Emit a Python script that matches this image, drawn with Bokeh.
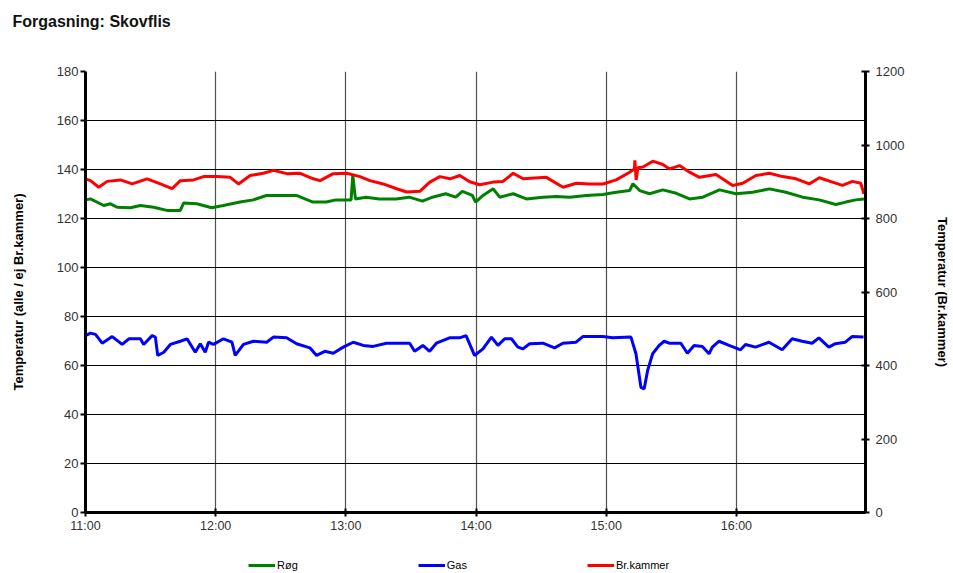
from bokeh.plotting import figure
from bokeh.layouts import column
from bokeh.models import Range1d, LinearAxis, FixedTicker, Legend, LegendItem, Title
from bokeh.embed import file_html
from bokeh.resources import INLINE

title_text = "Forgasning: Skovflis"
left_label = "Temperatur (alle / ej Br.kammer)"
right_label = "Temperatur (Br.kammer)"
series_names = ["Røg", "Gas", "Br.kammer"]
series_colors = ["#008000", "#0000FF", "#FF0000"]

tick_pos = [0, 60, 120, 180, 240, 300]
tick_labels = ["11:00", "12:00", "13:00", "14:00", "15:00", "16:00"]

# minutes after 11:00
roeg_t = [0, 2.3, 8.4, 11.5, 14.6, 20.7, 25.3, 31.4, 37.5, 43.7, 45.2, 51.3, 58.2, 63.5, 71.2, 77.3,
          83.4, 89.5, 97.2, 104.8, 110.9, 115.5, 122.4, 123.2, 124.4, 129.3, 135.4, 143.1, 149.2,
          155.3, 159.9, 166, 170.6, 173.7, 178.3, 179.8, 183.2, 187.9, 190.9, 197.1, 203.2, 210.9,
          217, 223.1, 230.8, 238.5, 244.6, 250.8, 252.3, 255.4, 260, 266.1, 272.3, 278.4, 284.5,
          292.2, 299.8, 307.5, 315.2, 322.8, 330.5, 338.2, 345.8, 350.4, 355, 358.8]
roeg_v = [127.6, 128.0, 125.3, 126, 124.6, 124.4, 125.3, 124.6, 123.3, 123.3, 126.3, 126, 124.4, 125.3,
          126.7, 127.6, 129.4, 129.4, 129.4, 126.7, 126.7, 127.6, 127.6, 137.6, 128, 128.7, 128, 128,
          128.7, 127.1, 128.7, 130.1, 128.7, 131.1, 129.4, 126.7, 129.4, 132.1, 128.7, 130.1, 128,
          128.7, 129, 128.7, 129.4, 129.8, 130.7, 131.4, 134.2, 131.4, 130.1, 131.7, 130.3, 128,
          128.7, 131.7, 130.1, 130.7, 132.1, 130.7, 128.7, 127.6, 125.7, 126.7, 127.6, 128]

gas_t = [0, 2.3, 4.6, 7.7, 12.3, 16.9, 20, 25.3, 26.8, 30.7, 32.2, 33.3, 36.1, 39.1, 43.7, 46.8, 50.6,
         52.9, 55.2, 56.7, 59, 63.6, 67.5, 69, 72.8, 77.4, 83.5, 86.6, 92.7, 97.3, 103.4, 106.5, 110.3,
         114.2, 118.8, 123.4, 128, 132.6, 138.7, 149.4, 151.7, 155.5, 158.6, 161.7, 167.8, 172.4,
         175.4, 179.3, 183.2, 187.1, 190.1, 193.2, 196.3, 199.3, 201.6, 204.7, 210.8, 216.2, 220,
         226.1, 229.2, 238.4, 243, 251.4, 253.7, 256, 257.5, 259.1, 261.4, 264.4, 266.7, 269, 274.4,
         277.4, 280.5, 284.3, 287.4, 288.9, 292, 296.6, 299.6, 301.9, 304.2, 308.8, 315, 321.1,
         325.7, 330.3, 334.9, 338, 342.6, 345.6, 350.2, 353.3, 358.6]
gas_v = [72.2, 73.2, 72.7, 69.1, 71.8, 68.6, 70.9, 70.9, 68.6, 72.2, 71.6, 64.1, 65.4, 68.6, 69.9, 70.9,
         65.4, 68.9, 65.4, 69.5, 68.6, 70.9, 69.5, 64.1, 68.6, 69.9, 69.5, 71.6, 71.3, 68.9, 67.2, 64.1,
         65.8, 65.0, 67.5, 69.5, 68.2, 67.8, 69.1, 69.1, 65.8, 68.2, 65.8, 69.1, 71.3, 71.3, 72.2,
         64.1, 66.8, 71.6, 68.2, 70.9, 70.9, 67.5, 66.8, 68.9, 69.1, 67.2, 69.1, 69.5, 71.8, 71.8,
         71.3, 71.6, 64.8, 51.1, 50.5, 58, 64.8, 68.2, 69.9, 69.1, 69.1, 65.0, 68.2, 67.8, 64.8, 67.5,
         69.9, 68.2, 67.2, 66.4, 68.6, 67.5, 69.5, 66.4, 70.9, 69.9, 69.1, 71.3, 67.5, 68.9, 69.5,
         71.8, 71.6]

kammer_t = [0, 2.3, 6.1, 10, 16.1, 21.5, 28.4, 34.5, 39.9, 43.7, 49.8, 54.4, 60.6, 66.7, 70.5, 75.9,
            82, 86.6, 92.8, 98.9, 105, 108.1, 114.2, 120.4, 126.5, 131.1, 137.2, 143.4, 148, 154.1,
            158.7, 163.3, 168, 172.5, 177.1, 181.7, 187.9, 192.4, 197.1, 201.7, 212.4, 220.1, 226.2,
            232.4, 238.5, 244.6, 250.8, 253.0, 253.2, 253.8, 254.6, 256.9, 261.5, 266.1, 269.2,
            273.8, 278.4, 283, 290.6, 298.3, 302.9, 309, 315.2, 321.3, 327.5, 333.6, 338.2, 344.3,
            348.9, 353.5, 357.3, 358.8]
kammer_v = [908, 903, 885, 901, 905, 894, 908, 894, 881, 903, 905, 914, 914, 912, 894, 917, 923, 931,
            922, 923, 908, 903, 922, 923, 914, 903, 894, 881, 872, 874, 899, 914, 908, 917, 900, 892,
            899, 901, 923, 908, 912, 885, 896, 894, 894, 905, 926, 935, 958, 905, 938, 940, 956, 947,
            935, 944, 926, 912, 920, 890, 896, 917, 923, 914, 908, 894, 911, 899, 890, 901, 896, 867]

FONT = "Liberation Sans"
W = 953

# ---- main chart
p = figure(width=W, height=548, x_range=Range1d(0, 359.5), y_range=Range1d(0, 180),
           output_backend="svg", toolbar_location=None,
           min_border_left=85, min_border_right=87, min_border_top=71, min_border_bottom=36)
p.extra_y_ranges = {"right": Range1d(0, 1200)}
p.outline_line_color = None
p.background_fill_color = "white"
p.border_fill_color = "white"

# spacer between frame and title, then the title itself (added later = further out)
p.add_layout(Title(text=" ", text_font=FONT, text_font_size="16px", standoff=23), "above")
p.add_layout(Title(text=title_text, align="left", offset=-73, standoff=0, text_font=FONT,
                   text_font_size="16px", text_font_style="bold", text_color="#111111"), "above")

xa = p.xaxis[0]
xa.ticker = FixedTicker(ticks=tick_pos)
xa.major_label_overrides = {t: l for t, l in zip(tick_pos, tick_labels)}
ya = p.yaxis[0]
ya.ticker = FixedTicker(ticks=list(range(0, 181, 20)))
ya.axis_label = left_label

ra = LinearAxis(y_range_name="right", ticker=FixedTicker(ticks=list(range(0, 1201, 200))),
                axis_label=right_label)
p.add_layout(ra, "right")

for ax in (xa, ya, ra):
    ax.axis_line_width = 3
    ax.axis_line_color = "black"
    ax.major_tick_line_width = 2
    ax.major_tick_line_color = "black"
    ax.minor_tick_line_color = None
    ax.major_label_text_font = FONT
    ax.major_label_text_font_size = "13px"
    ax.major_label_text_color = "#333333"
    ax.axis_label_text_font = FONT
    ax.axis_label_text_font_size = "13px"
    ax.axis_label_text_font_style = "bold"
    ax.axis_label_text_color = "black"

xa.major_label_text_font_size = "12.5px"
xa.major_tick_in = 4
xa.major_tick_out = 4
xa.major_label_standoff = 2
ya.major_tick_in = 0
ya.major_tick_out = 5
ya.major_label_standoff = 2
ya.axis_label_standoff = 28
ra.major_tick_in = 4
ra.major_tick_out = 4
ra.major_label_standoff = 6
ra.axis_label_standoff = 28

p.xgrid.grid_line_color = "#505050"
p.xgrid.grid_line_width = 1.2
p.ygrid.grid_line_color = "black"
p.ygrid.grid_line_width = 1

series = [(roeg_t, roeg_v, None), (gas_t, gas_v, None), (kammer_t, kammer_v, "right")]
for (t, v, rng), col in zip(series, series_colors):
    if rng:
        p.line(t, v, line_color=col, line_width=3, y_range_name=rng)
    else:
        p.line(t, v, line_color=col, line_width=3)

# ---- legend strip (its frame is aligned with the chart frame by the column layout)
pbot = figure(width=W, height=25, x_range=Range1d(0, 359.5), y_range=Range1d(0, 1),
              output_backend="svg", toolbar_location=None, min_border=0,
              x_axis_location=None, y_axis_location=None)
pbot.grid.visible = False
pbot.outline_line_color = None
pbot.background_fill_color = "white"
pbot.border_fill_color = "white"
items = []
for (t, v, rng), name, col in zip(series, series_names, series_colors):
    r = pbot.line(t, v, line_color=col, line_width=3)  # lies outside this strip's view
    items.append(LegendItem(label=name, renderers=[r]))
legend = Legend(items=items, location=(163, 0), orientation="horizontal", spacing=120,
                padding=0, margin=0, glyph_width=27, glyph_height=16, label_height=16,
                label_standoff=2, label_text_font=FONT, label_text_font_size="11px",
                label_text_color="black", border_line_color=None, background_fill_alpha=0)
pbot.add_layout(legend, "center")

layout = column(p, pbot, spacing=0)
open("out.html", "w").write(file_html(layout, INLINE))
